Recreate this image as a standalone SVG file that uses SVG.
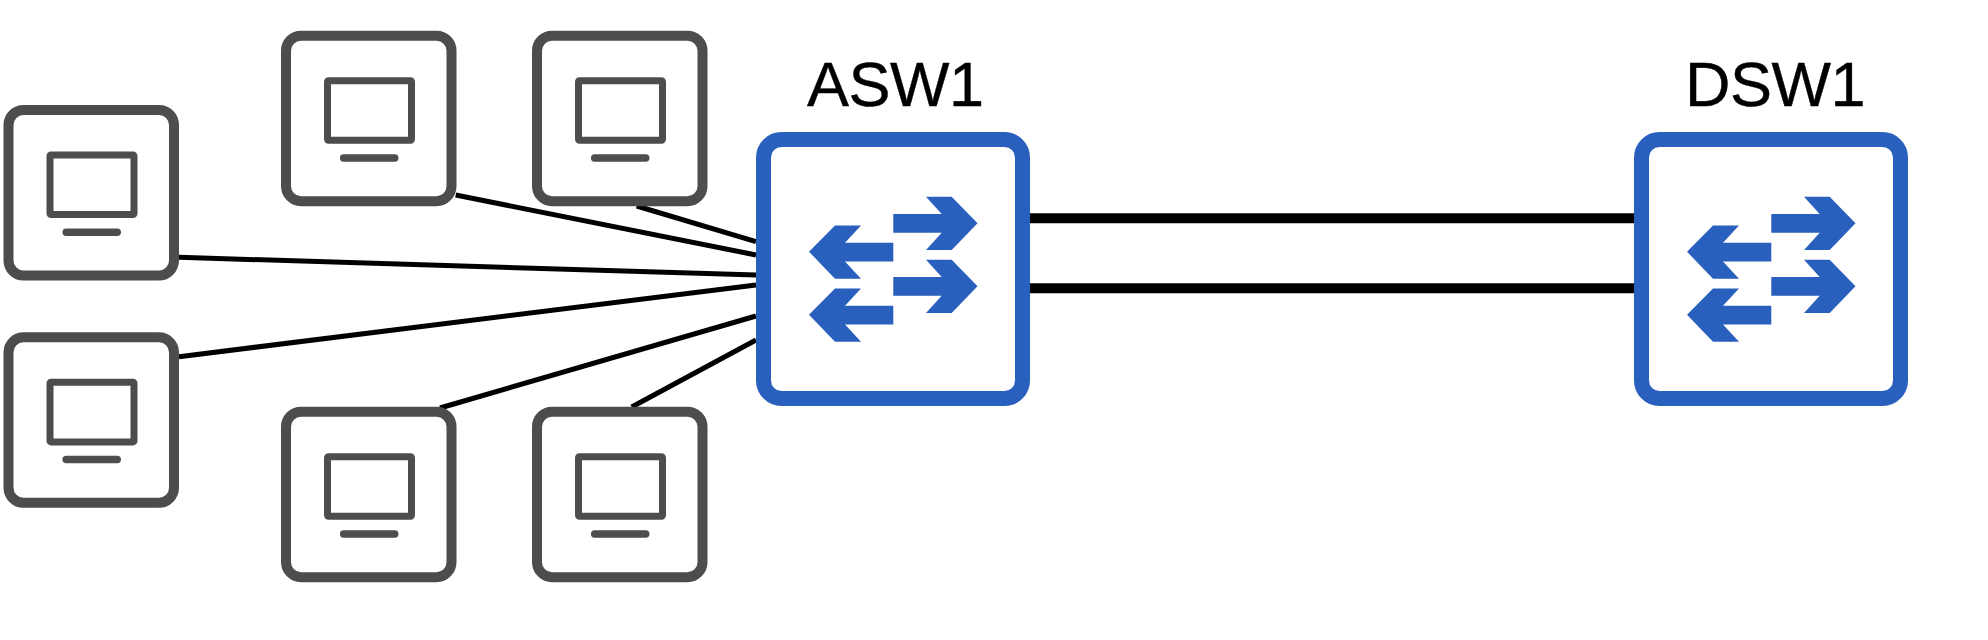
<svg xmlns="http://www.w3.org/2000/svg" xmlns:xlink="http://www.w3.org/1999/xlink" width="1988" height="640" viewBox="0 0 1988 640">
<style>
.pc-frame{fill:#fff;stroke:#4d4d4d;stroke-width:10}
.pc-screen{fill:#fff;stroke:#4d4d4d;stroke-width:7;stroke-linejoin:round}
.pc-bar{fill:none;stroke:#4d4d4d;stroke-width:7.5;stroke-linecap:round}
.sw-frame{fill:#fff;stroke:#295fbd;stroke-width:15}
.sw-arrow{fill:#295fbd}
.thin{stroke:#000;stroke-width:5;fill:none}
.thick{stroke:#000;stroke-width:10;fill:none}
.label{font-family:"Liberation Sans",Arial,sans-serif;font-size:63px;fill:#000;stroke:#000;stroke-width:0.4px;letter-spacing:-0.5px}
</style>
<defs>
<g id="pc">
<rect class="pc-frame" x="5" y="5" width="165.5" height="165.5" rx="15"/>
<rect class="pc-screen" x="46.5" y="50" width="84" height="59.6" rx="1"/>
<line class="pc-bar" x1="62.7" y1="127.3" x2="113.7" y2="127.3"/>
</g>
<g id="switch">
<rect class="sw-frame" x="7.5" y="7.5" width="259" height="259" rx="18"/>
<path class="sw-arrow" d="M137.3 82H185.7L170 64.7H195.7L221.5 91.3L195.7 118H170L185.7 100.7H137.3Z"/>
<path class="sw-arrow" d="M137.3 145H185.7L170 127.7H195.7L221.5 154.3L195.7 181H170L185.7 163.7H137.3Z"/>
<path class="sw-arrow" d="M137.3 110.7H89L105 93.5H79L53 119.7L79 146.7H105L89 129.5H137.3Z"/>
<path class="sw-arrow" d="M137.3 173.7H89L105 156.5H79L53 182.7L79 209.7H105L89 192.5H137.3Z"/>
</g>
</defs>
<rect width="1988" height="640" fill="#fff"/>
<g id="connectors">
<line class="thin" x1="636.7" y1="206" x2="756" y2="241.7"/>
<line class="thin" x1="455.7" y1="195" x2="756" y2="255"/>
<line class="thin" x1="179" y1="257.3" x2="756" y2="275"/>
<line class="thin" x1="179" y1="356.7" x2="756" y2="285"/>
<line class="thin" x1="440" y1="408" x2="756" y2="316"/>
<line class="thin" x1="631.7" y1="407" x2="756" y2="340"/>
<line class="thick" x1="1030" y1="218.3" x2="1634" y2="218.3"/>
<line class="thick" x1="1030" y1="288.3" x2="1634" y2="288.3"/>
</g>
<g id="pc1"><use xlink:href="#pc" href="#pc" x="3.5" y="105"/></g>
<g id="pc2"><use xlink:href="#pc" href="#pc" x="3.5" y="332.3"/></g>
<g id="pc3"><use xlink:href="#pc" href="#pc" x="281" y="30.7"/></g>
<g id="pc4"><use xlink:href="#pc" href="#pc" x="532" y="30.7"/></g>
<g id="pc5"><use xlink:href="#pc" href="#pc" x="281" y="406.7"/></g>
<g id="pc6"><use xlink:href="#pc" href="#pc" x="532" y="406.7"/></g>
<g id="asw1">
<use xlink:href="#switch" href="#switch" x="756" y="132"/>
<text class="label" x="807" y="105.5">ASW1</text>
</g>
<g id="dsw1">
<use xlink:href="#switch" href="#switch" x="1634" y="132"/>
<text class="label" x="1685" y="105.5">DSW1</text>
</g>
</svg>
